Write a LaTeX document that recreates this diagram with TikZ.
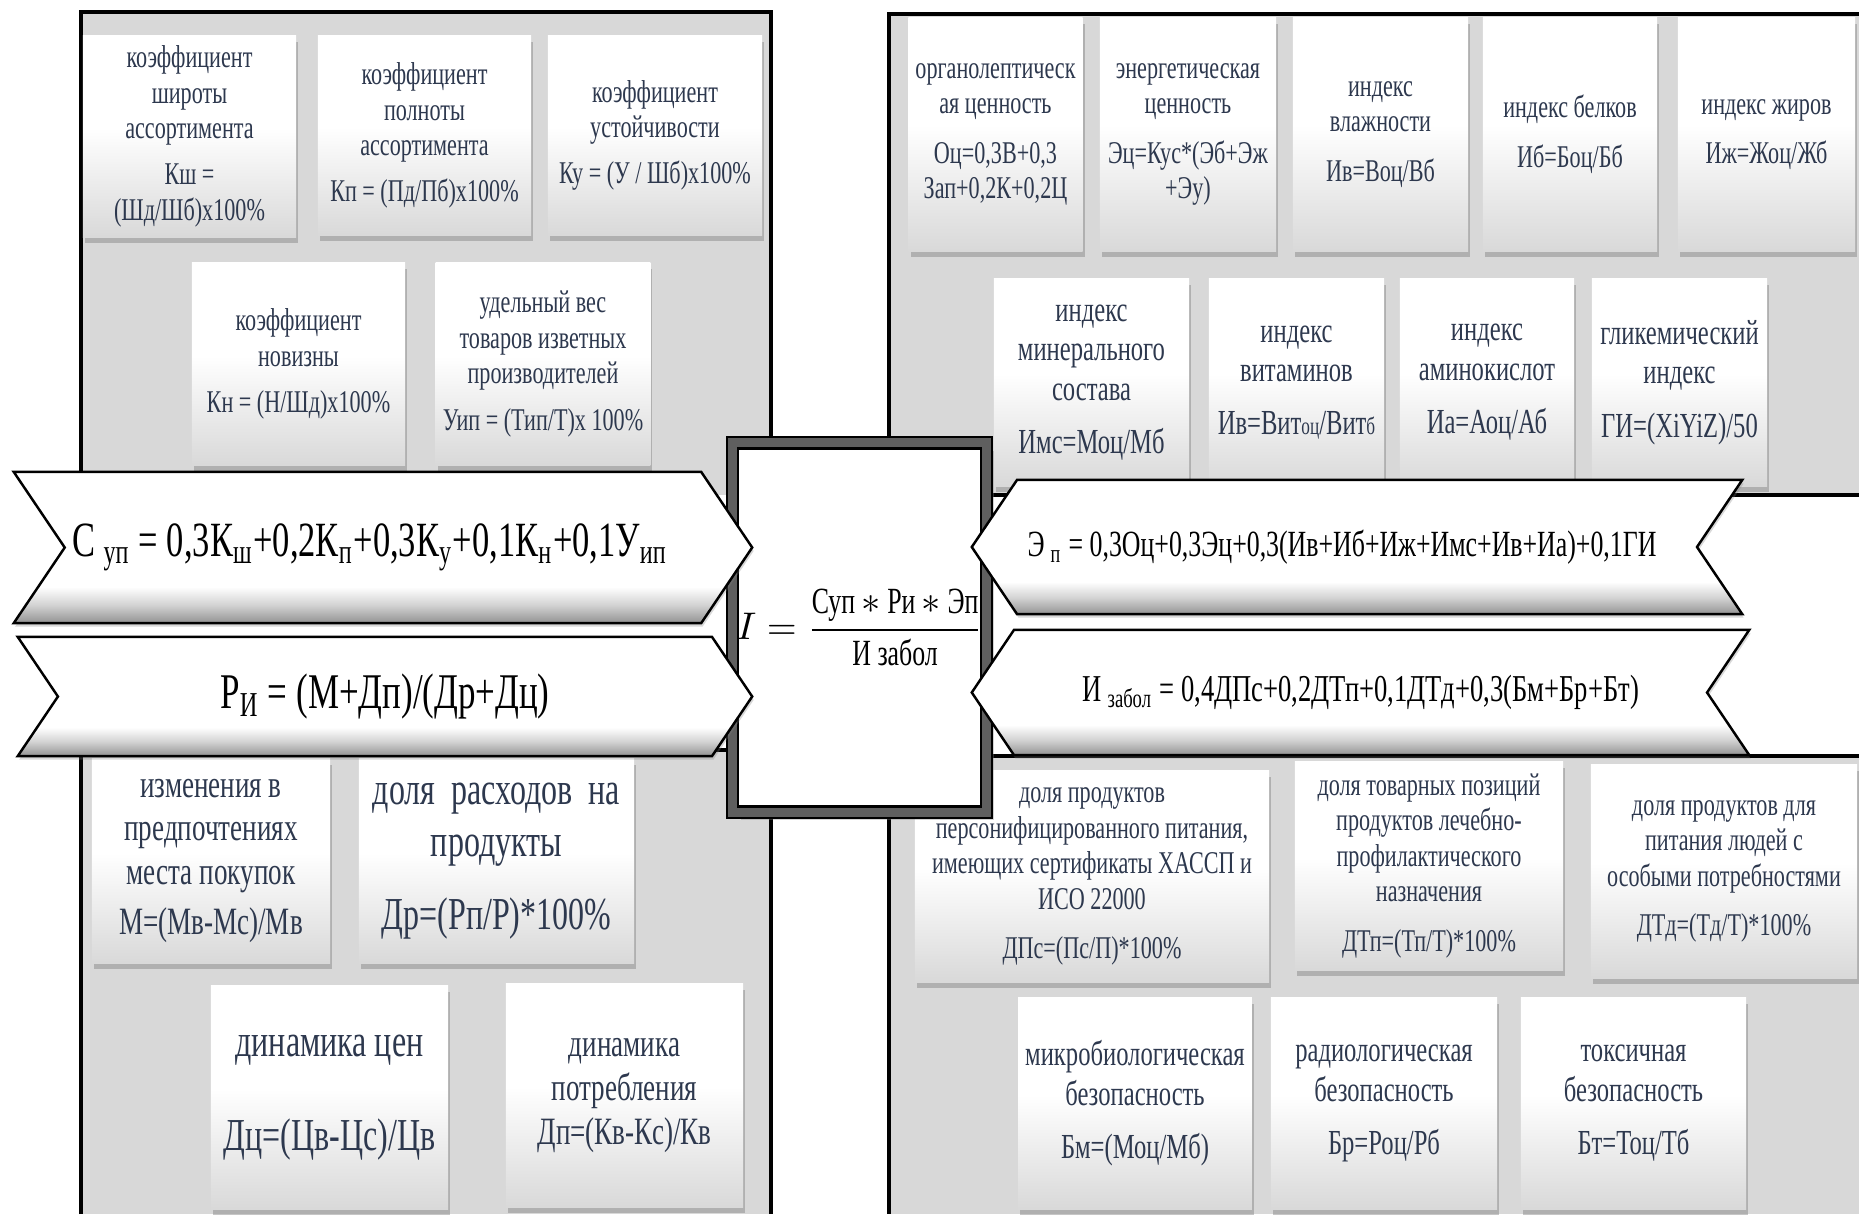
\documentclass[tikz,border=0pt]{standalone}
\usepackage{amsmath}
\usepackage{fontspec}
\setmainfont{Liberation Serif}[FakeStretch=0.7]
\usepackage{tikz}
\usetikzlibrary{shapes.symbols, shadows}

\definecolor{panelgray}{RGB}{216,216,216}
\definecolor{cardink}{RGB}{45,56,78}
\definecolor{framegray}{RGB}{95,95,95}

\pgfdeclareverticalshading{cardfade}{100bp}{color(0bp)=(gray!30); color(25bp)=(gray!30); color(52bp)=(white); color(100bp)=(white)}
\pgfdeclareverticalshading{bevelfade}{100bp}{color(0bp)=(gray!85); color(25bp)=(gray!85); color(31bp)=(gray!35); color(37bp)=(white); color(100bp)=(white)}

\begin{document}
\begin{tikzpicture}[
    x=0.01cm, y=-0.01cm,
    card/.style={shade, shading=cardfade, align=center, inner sep=2pt, text=cardink,
        drop shadow={shadow xshift=0.6pt, shadow yshift=-1.6pt, opacity=0.45}},
    smallcard/.style={card, font=\fontsize{9}{10.1}\selectfont},
    midcard/.style={card, font=\fontsize{10}{11.2}\selectfont},
    largecard/.style={card, font=\fontsize{11}{12.4}\selectfont},
    hugecard/.style={card, font=\fontsize{13}{14.8}\selectfont},
    chevron/.style={shape=signal, signal pointer angle=112, draw=black, line width=0.7pt,
        shade, shading=bevelfade, inner sep=0pt,
        drop shadow={shadow xshift=0.4pt, shadow yshift=-1pt, opacity=0.3}},
    tochevron/.style={chevron, signal from=west, signal to=east},
    backchevron/.style={chevron, signal from=east, signal to=west},
    mainbox/.style={draw=black, line width=0.6pt, double=framegray, double distance=2.6pt,
        fill=white, inner sep=1pt, drop shadow={opacity=0.35}}
]
    \useasboundingbox (0,0) rectangle (1859,1214);

    % background panels
    \fill[panelgray] (81,12) rectangle (771,495);
    \fill[panelgray] (81,750) rectangle (771,1214);
    \fill[panelgray] (889,14) rectangle (1859,495);
    \fill[panelgray] (889,756) rectangle (1859,1214);
    \draw[line width=1.2pt] (81,495) -- (81,12) -- (771,12) -- (771,495);
    \draw[line width=1.2pt] (81,1214) -- (81,750) -- (771,750) -- (771,1214);
    \draw[line width=1.2pt] (1859,495) -- (889,495) -- (889,14) -- (1859,14);
    \draw[line width=1.2pt] (1859,756) -- (889,756) -- (889,1214);

    % assortment cards
    \node[smallcard, minimum width=2.13cm, minimum height=2.01cm] (shir) at (189.5,136.5)
        {коэффициент\\ широты\\ ассортимента\\[3pt] Кш =\\ (Шд/Шб)х100\%};
    \node[smallcard, minimum width=2.13cm, minimum height=1.99cm] (poln) at (424.5,135.5)
        {коэффициент\\ полноты\\ ассортимента\\[3pt] Кп = (Пд/Пб)х100\%};
    \node[smallcard, minimum width=2.14cm, minimum height=1.99cm] (ustoi) at (655,135.5)
        {коэффициент\\ устойчивости\\[3pt] Ку = (У / Шб)х100\%};
    \node[smallcard, minimum width=2.13cm, minimum height=2.02cm] (noviz) at (298.5,364)
        {коэффициент\\ новизны\\[3pt] Кн = (Н/Шд)х100\%};
    \node[smallcard, minimum width=2.14cm, minimum height=2.02cm] (udves) at (543,364)
        {удельный вес\\ товаров изветных\\ производителей\\[3pt] Уип = (Тип/Т)х 100\%};

    % demand cards
    \node[largecard, minimum width=2.38cm, minimum height=2.04cm] (mesto) at (211,861)
        {изменения в\\ предпочтениях\\ места покупок\\[2pt] М=(Мв-Мс)/Мв};
    \node[hugecard, minimum width=2.75cm, minimum height=2.04cm] (rashod) at (496.5,861)
        {доля\ \ расходов\ \ на\\ продукты\\[6pt] Др=(Рп/Р)*100\%};
    \node[hugecard, minimum width=2.37cm, minimum height=2.23cm] (dincen) at (329.5,1097.5)
        {динамика цен\\[12pt] Дц=(Цв-Цс)/Цв};
    \node[largecard, minimum width=2.37cm, minimum height=2.23cm] (dinpot) at (624.5,1095.5)
        {динамика\\ потребления\\ Дп=(Кв-Кс)/Кв};

    % nutrition cards
    \node[smallcard, minimum width=1.73cm, minimum height=2.33cm] (organ) at (995.5,134.5)
        {органолептическ\\ ая ценность\\[4pt] Оц=0,3В+0,3\\ Зап+0,2К+0,2Ц};
    \node[smallcard, minimum width=1.76cm, minimum height=2.33cm] (energ) at (1188,134.5)
        {энергетическая\\ ценность\\[4pt] Эц=Кус*(Эб+Эж\\ +Эу)};
    \node[smallcard, minimum width=1.75cm, minimum height=2.33cm] (vlazh) at (1380.5,134.5)
        {индекс\\ влажности\\[4pt] Ив=Воц/Вб};
    \node[smallcard, minimum width=1.74cm, minimum height=2.33cm] (belki) at (1570,134.5)
        {индекс белков\\[4pt] Иб=Боц/Бб};
    \node[smallcard, minimum width=1.77cm, minimum height=2.33cm] (zhiry) at (1766.5,134.5)
        {индекс жиров\\[4pt] Иж=Жоц/Жб};
    \node[midcard, minimum width=1.95cm, minimum height=2.07cm] (miner) at (1091.5,382.5)
        {индекс\\ минерального\\ состава\\[4pt] Имс=Моц/Мб};
    \node[midcard, minimum width=1.75cm, minimum height=2.07cm] (vitam) at (1296.5,382.5)
        {индекс\\ витаминов\\[4pt] Ив=Вит{\scriptsize оц}/Вит{\scriptsize б}};
    \node[midcard, minimum width=1.74cm, minimum height=2.07cm] (amino) at (1487,382.5)
        {индекс\\ аминокислот\\[4pt] Иа=Аоц/Аб};
    \node[midcard, minimum width=1.75cm, minimum height=2.07cm] (glik) at (1679.5,382.5)
        {гликемический\\ индекс\\[4pt] ГИ=(XiYiZ)/50};

    % safety cards
    \node[smallcard, minimum width=3.54cm, minimum height=2.11cm] (haccp) at (1092,876.5)
        {доля продуктов\\ персонифицированного питания,\\ имеющих сертификаты ХАССП и\\ ИСО 22000\\[4pt] ДПс=(Пс/П)*100\%};
    \node[smallcard, minimum width=2.68cm, minimum height=2.08cm] (lechpr) at (1429,866)
        {доля товарных позиций\\ продуктов лечебно-\\ профилактического\\ назначения\\[4pt] ДТп=(Тп/Т)*100\%};
    \node[smallcard, minimum width=2.66cm, minimum height=2.13cm] (osob) at (1724,871.5)
        {доля продуктов для\\ питания людей с\\ особыми потребностями\\[4pt] ДТд=(Тд/Т)*100\%};
    \node[midcard, minimum width=2.26cm, minimum height=2.11cm] (mikrob) at (1135,1103.5)
        {микробиологическая\\ безопасность\\[4pt] Бм=(Моц/Мб)};
    \node[midcard, minimum width=2.26cm, minimum height=2.11cm] (radio) at (1384,1103.5)
        {радиологическая\\ безопасность\\[4pt] Бр=Роц/Рб};
    \node[midcard, minimum width=2.25cm, minimum height=2.11cm] (toks) at (1633.5,1103.5)
        {токсичная\\ безопасность\\[4pt] Бт=Тоц/Тб};

    % central index
    \node[mainbox, minimum width=2.45cm, minimum height=3.69cm, font=\fontsize{10.5}{12}\selectfont]
        (integr) at (859.5,627.5)
        {$I=\dfrac{\text{Суп}\,{\ast}\,\text{Ри}\,{\ast}\,\text{Эп}}{\text{И забол}}$};

    % formula chevrons
    \node[tochevron, minimum width=7.38cm, minimum height=1.51cm, font=\fontsize{14}{16}\selectfont]
        (sup) at (383,547.5)
        {С\,\textsubscript{уп} = 0,3К\textsubscript{ш}+0,2К\textsubscript{п}+0,3К\textsubscript{у}+0,1К\textsubscript{н}+0,1У\textsubscript{ип}\hspace*{0.26cm}};
    \node[tochevron, minimum width=7.34cm, minimum height=1.19cm, font=\fontsize{14.2}{16}\selectfont]
        (ri) at (385,696.5)
        {Р\textsubscript{И} = (М+Дп)/(Др+Дц)};
    \node[backchevron, minimum width=7.70cm, minimum height=1.34cm, font=\fontsize{10.5}{13}\selectfont]
        (ep) at (1357,547)
        {Э\,\textsubscript{п} = 0,3Оц+0,3Эц+0,3(Ив+Иб+Иж+Имс+Ив+Иа)+0,1ГИ\hspace*{0.3cm}};
    \node[backchevron, minimum width=7.77cm, minimum height=1.25cm, font=\fontsize{10.8}{13}\selectfont]
        (izab) at (1360.5,692.5)
        {И\,\textsubscript{забол} = 0,4ДПс+0,2ДТп+0,1ДТд+0,3(Бм+Бр+Бт)};
\end{tikzpicture}
\end{document}
